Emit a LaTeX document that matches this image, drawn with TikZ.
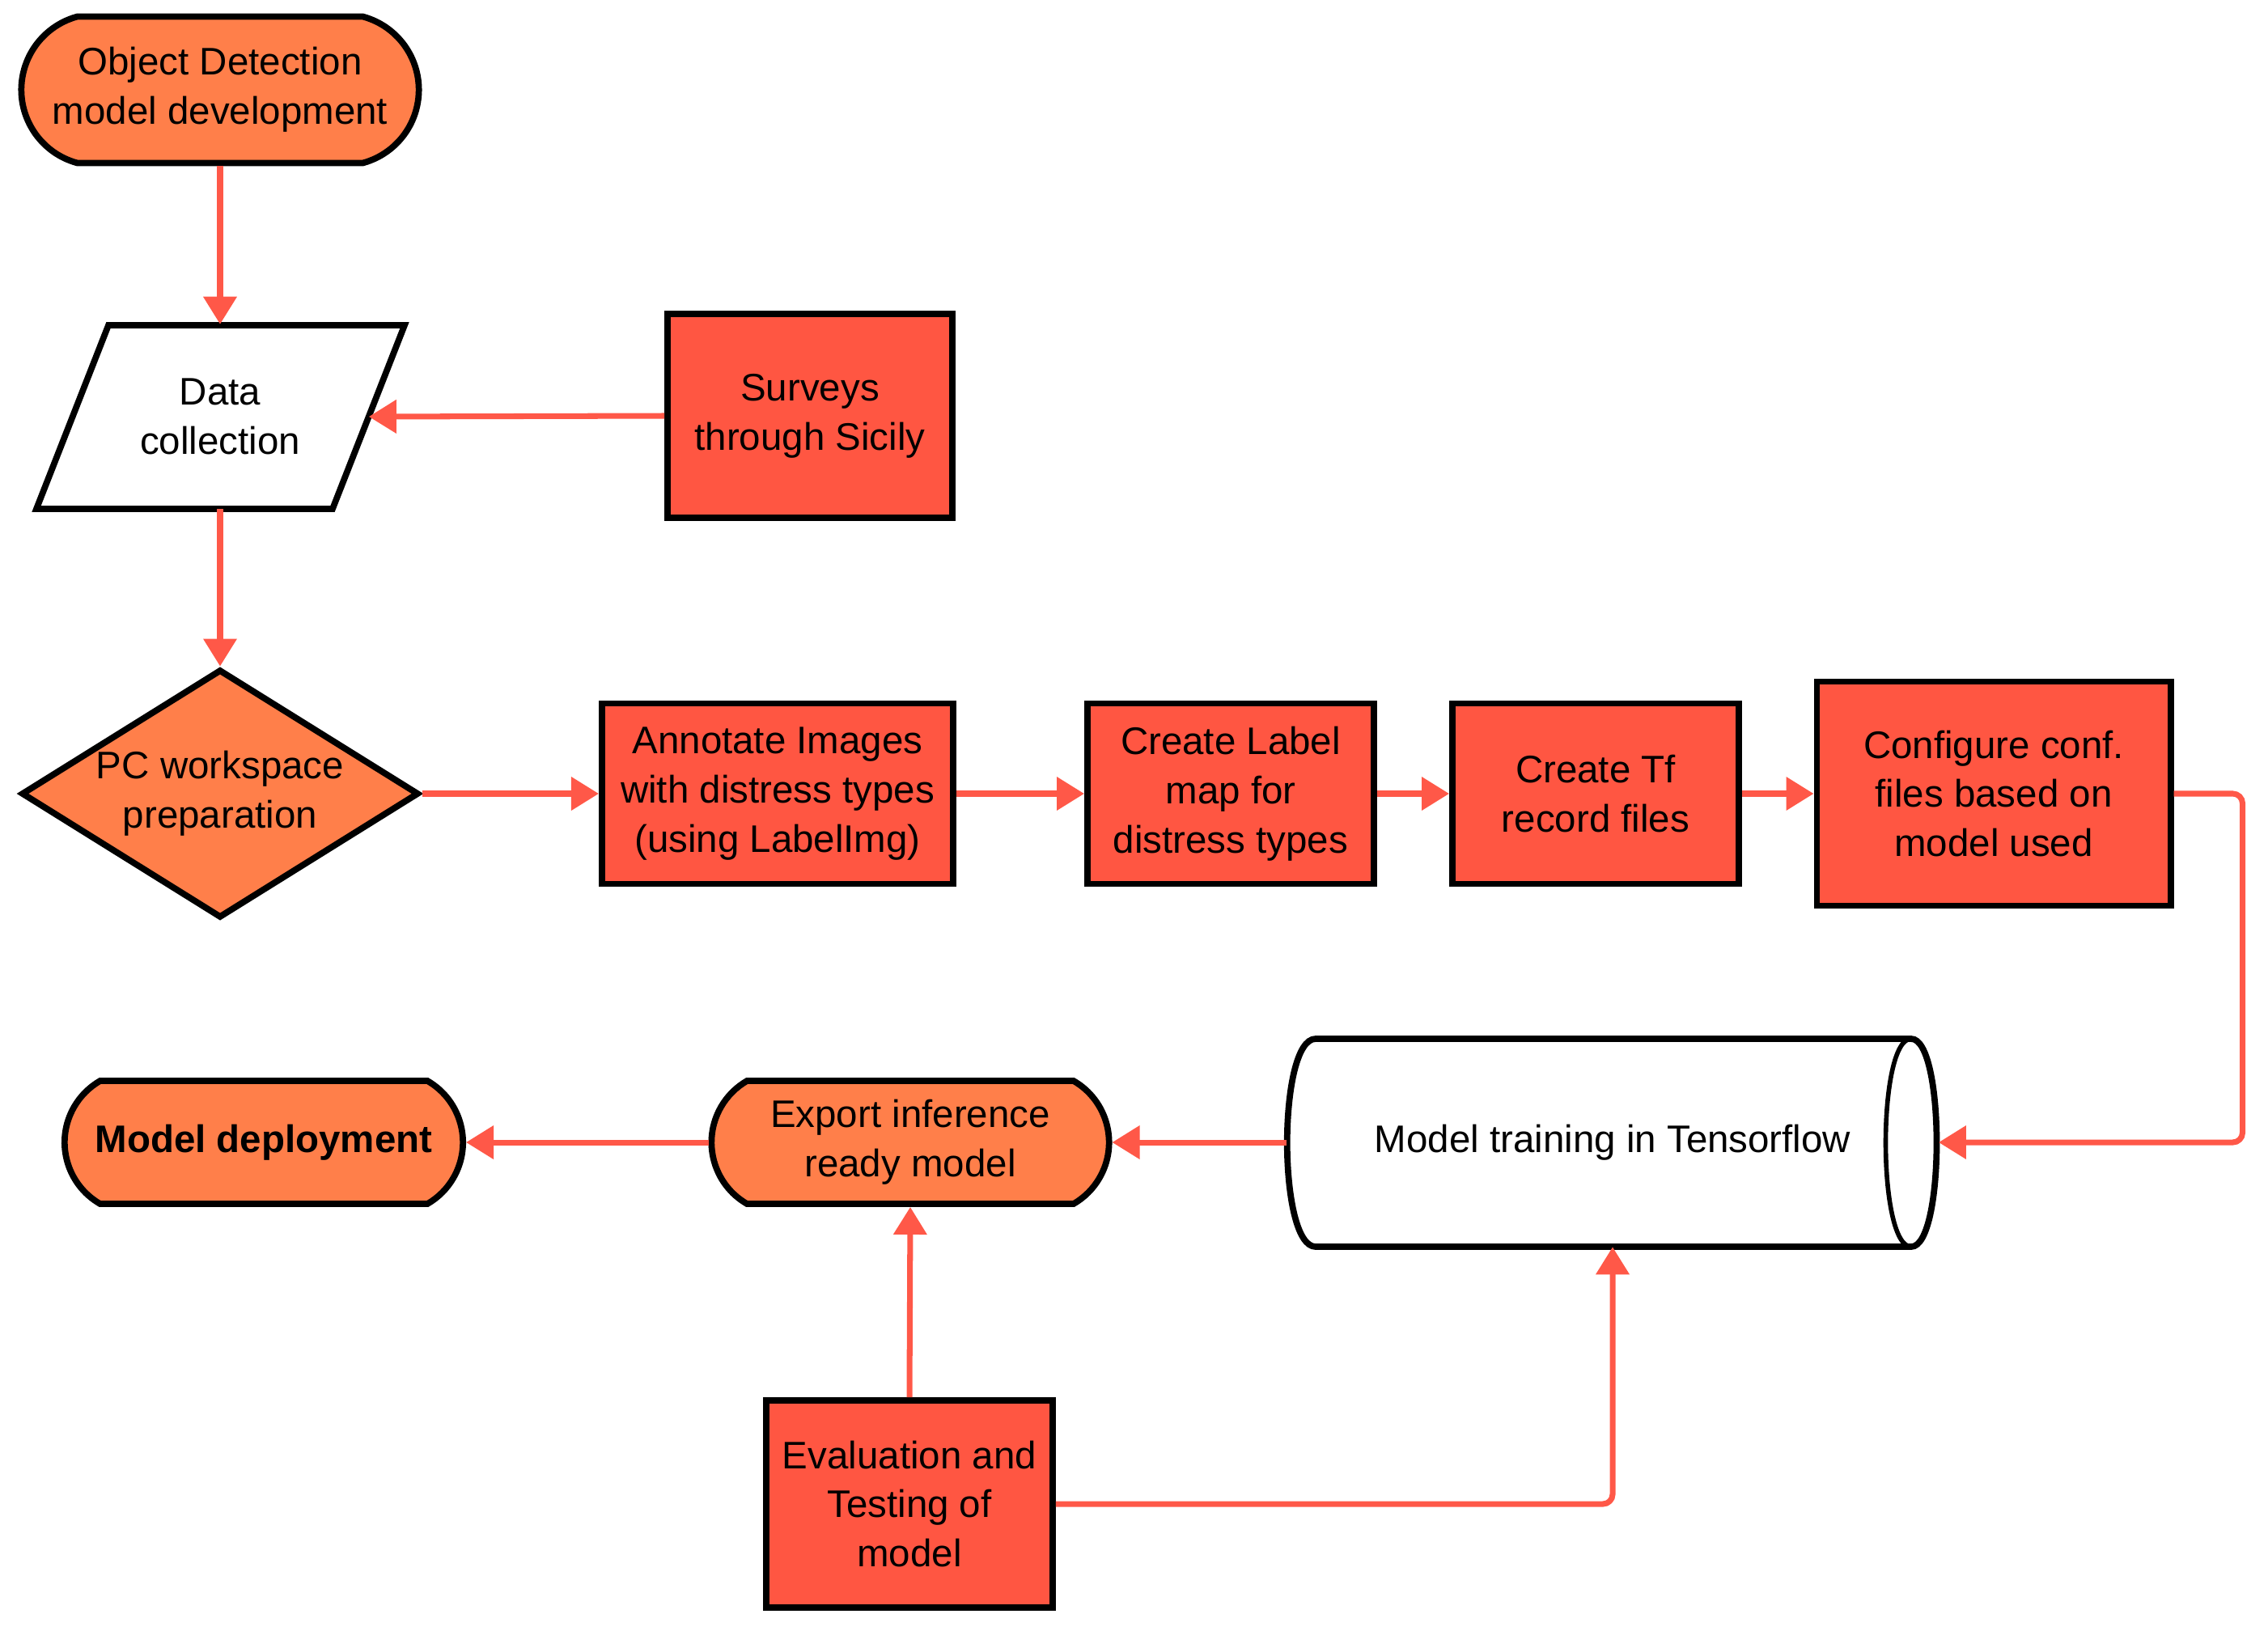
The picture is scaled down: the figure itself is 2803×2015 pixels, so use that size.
\documentclass[tikz,border=0pt]{standalone}
\usepackage{fontspec}
\setmainfont{Liberation Sans}
\usetikzlibrary{shapes.geometric,shapes.misc,arrows.meta}
\definecolor{orng}{RGB}{255,127,74}
\definecolor{rbox}{RGB}{255,86,66}
\definecolor{arrc}{RGB}{255,88,72}
\begin{document}
\begin{tikzpicture}[x=0.01cm,y=-0.01cm,
  every node/.style={font=\fontsize{13.5}{17.3}\selectfont, align=center, inner sep=0pt},
  outl/.style={draw=black, line width=2.2pt},
  stadium/.style={outl, shape=rounded rectangle, rounded rectangle arc length=120, fill=orng},
  redbox/.style={outl, rectangle, fill=rbox},
  flow/.style={draw=arrc, line width=2pt, -{Triangle[length=0.34cm,width=0.4cm]}}]
\useasboundingbox (0,0) rectangle (2803,2015);

% nodes
\node[stadium, rounded rectangle arc length=150, minimum width=4.91cm, minimum height=1.81cm] (od) at (272,111) {Object Detection\\model development};

\draw[outl, fill=white] (134,402) -- (500,402) -- (411,629) -- (45,629) -- cycle;
\node[minimum width=3.66cm, minimum height=2.27cm] (dc) at (272,515) {Data\\collection};

\node[redbox, minimum width=3.52cm, minimum height=2.52cm] (sv) at (1001,514) {Surveys\\through Sicily};

\node[outl, diamond, fill=orng, aspect=1.6, minimum width=4.91cm, minimum height=3.07cm] (pc) at (272,981) {PC workspace\\preparation};

\node[redbox, minimum width=4.34cm, minimum height=2.23cm] (an) at (961,981) {Annotate Images\\with distress types\\(using LabelImg)};
\node[redbox, minimum width=3.54cm, minimum height=2.23cm] (lb) at (1521,981) {Create Label\\map for\\distress types};
\node[redbox, minimum width=3.54cm, minimum height=2.23cm] (tf) at (1972,981) {Create Tf\\record files};
\node[redbox, minimum width=4.37cm, minimum height=2.77cm] (cf) at (2464,981) {Configure conf.\\files based on\\model used};

% cylinder (drawn), with a node for text and anchors
\draw[outl, fill=white] (1626,1284) -- (2362,1284)
  .. controls (2404,1284) and (2404,1541) .. (2362,1541)
  -- (1626,1541)
  .. controls (1579,1541) and (1579,1284) .. (1626,1284) -- cycle;
\draw[draw=black, line width=1.6pt] (2362,1284) .. controls (2320,1284) and (2320,1541) .. (2362,1541);
\node[minimum width=8.04cm, minimum height=2.57cm] (cyl) at (1993,1412) {Model training in Tensorflow};

\node[stadium, minimum width=4.91cm, minimum height=1.52cm] (ex) at (1125,1412) {Export inference\\ready model};
\node[stadium, minimum width=4.92cm, minimum height=1.52cm, font=\fontsize{13.5}{17.3}\selectfont\bfseries] (md) at (326,1412) {Model deployment};

\node[redbox, minimum width=3.54cm, minimum height=2.56cm] (ev) at (1124,1859) {Evaluation and\\Testing of\\model};

% connectors
\draw[flow] (od.south) -- (dc.north);
\draw[flow] (sv.west) -- (dc.east);
\draw[flow] (dc.south) -- (pc.north);
\draw[flow] (pc.east) -- (an.west);
\draw[flow] (an.east) -- (lb.west);
\draw[flow] (lb.east) -- (tf.west);
\draw[flow] (tf.east) -- (cf.west);
\draw[flow, rounded corners=0.12cm] (cf.east) -- ++(85,0) |- (cyl.east);
\draw[flow] (cyl.west) -- (ex.east);
\draw[flow] (ex.west) -- (md.east);
\draw[flow] (ev.north) -- (ex.south);
\draw[flow, rounded corners=0.12cm] (ev.east) -| (cyl.south);
\end{tikzpicture}
\end{document}
